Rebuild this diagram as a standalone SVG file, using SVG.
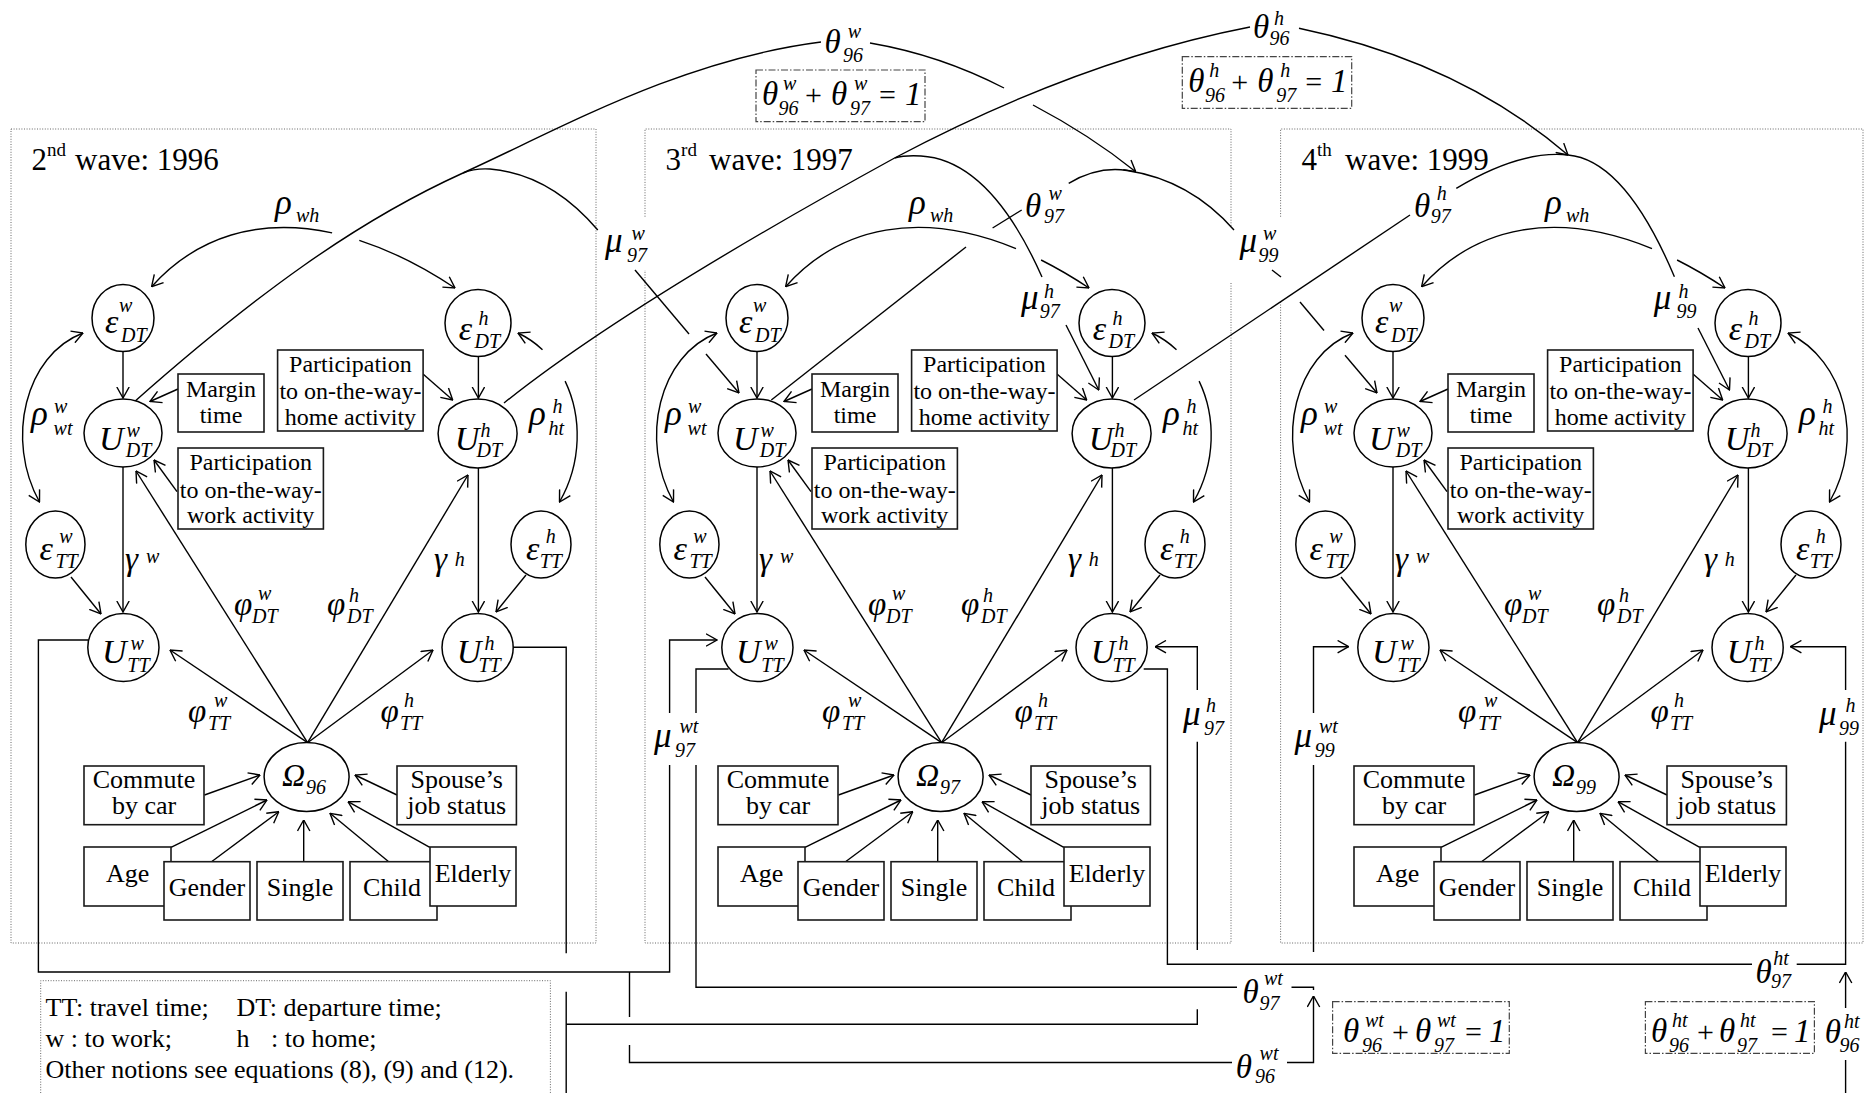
<svg xmlns="http://www.w3.org/2000/svg" width="1866" height="1093" viewBox="0 0 1866 1093">
<defs>
<style>
text{font-family:"Liberation Serif","Times New Roman",serif;fill:#000}
.e{fill:#fff;stroke:#000;stroke-width:1.5}
.b{fill:#fff;stroke:#1a1a1a;stroke-width:1.6}
.c{fill:none;stroke:#000;stroke-width:1.4}
.a{marker-end:url(#ah)}
.s0{marker-start:url(#ah)}
.fr{fill:none;stroke:#666;stroke-width:1;stroke-dasharray:1 1.6}
.dd{fill:none;stroke:#444;stroke-width:1.2;stroke-dasharray:7 2 1.5 2}
.bt{font-size:24px;text-anchor:middle}
.bt2{font-size:26px;text-anchor:middle}
.lg{font-size:26px}
.ttl{font-size:31px}
.sp{font-size:19px}
.U{font-size:34px;font-style:italic}
.G{font-size:35px;font-style:italic}
.T{font-size:33px;font-style:italic}
.W{font-size:32px;font-style:italic}
.s{font-size:20px;font-style:italic}
.op{font-size:30px}
</style>
<marker id="ah" viewBox="0 0 12 14" refX="11.5" refY="7" markerWidth="12" markerHeight="14" markerUnits="userSpaceOnUse" orient="auto-start-reverse">
<path d="M0.5,0.8 L11.5,7 L0.5,13.2" fill="none" stroke="#000" stroke-width="1.4"/>
</marker>
</defs>
<rect width="1866" height="1093" fill="#fff"/>

<!-- dotted wave frames, legend frame and titles -->
<g id="frames">
<path class="fr" d="M11,129 H596 V943 H11 Z"/>
<path class="fr" d="M645,216.7 V129 H1231 V226.7 M1231,283 V943 H645 V270"/>
<path class="fr" d="M1280.6,216.7 V129 H1863 V943 H1280.6 V301.7"/>
<path class="fr" d="M40.7,1093 V980.7 H550.4 V1093"/>
<text class="ttl" x="31.6" y="170">2<tspan class="sp" dy="-14">nd</tspan><tspan x="75" dy="14">wave: 1996</tspan></text>
<text class="ttl" x="665.6" y="170">3<tspan class="sp" dy="-14">rd</tspan><tspan x="709" dy="14">wave: 1997</tspan></text>
<text class="ttl" x="1301.6" y="170">4<tspan class="sp" dy="-14">th</tspan><tspan x="1345" dy="14">wave: 1999</tspan></text>
<g id="legend">
<text class="lg" x="45.5" y="1016">TT: travel time;</text>
<text class="lg" x="236.5" y="1016">DT: departure time;</text>
<text class="lg" x="45.5" y="1046.7">w : to work;</text>
<text class="lg" x="236.5" y="1046.7">h</text>
<text class="lg" x="271" y="1046.7">: to home;</text>
<text class="lg" x="45.5" y="1078.3">Other notions see equations (8), (9) and (12).</text>
</g>
</g>

<!-- all connectors -->
<g id="connectors">
<g id="links-96">
<path class="c a" d="M123,351.5 L123,398"/>
<path class="c a" d="M178,389 L150,401.5"/>
<path class="c a" d="M177,491.7 L154,460"/>
<path class="c a" d="M123,467 L123,612"/>
<path class="c a" d="M71,577 L101,614"/>
<path class="c a" d="M307.6,742.7 L136,471"/>
<path class="c a" d="M307.6,742.7 L170,650"/>
<path class="c a" d="M307.6,742.7 L468,475"/>
<path class="c a" d="M307.6,742.7 L433,650"/>
<path class="c a" d="M478.4,356.5 L478.4,398"/>
<path class="c a" d="M423,374 L452.7,400"/>
<path class="c a" d="M478.4,468 L478.4,612"/>
<path class="c a" d="M526,575 L496,612"/>
<path class="c a" d="M204.5,795 L260,775"/>
<path class="c a" d="M397,795 L355,775"/>
<path class="c a" d="M171,847.3 L267,800"/>
<path class="c a" d="M211.5,861.7 L278.8,811.7"/>
<path class="c a" d="M303.7,861.7 L303.7,820"/>
<path class="c a" d="M388.7,861.7 L330,813.3"/>
<path class="c a" d="M429.8,847.3 L348,801.7"/>
<path class="c a s0" d="M83,333 C25,355 5,440 39.5,502"/>
<path class="c s0" d="M151.6,286.7 C196.4,236.5 259.1,217 332.1,232.9"/>
<path class="c a" d="M359.3,240.3 C389.8,250.2 421.9,266 455,288"/>
<path class="c s0" d="M518,333 C527.1,337.3 535.3,343 542.5,349.7"/>
<path class="c a" d="M565.1,381.1 C582.2,416.7 581.9,462.9 559.5,502"/>
</g>
<g id="links-97" transform="translate(634,0)">
<path class="c a" d="M123,351.5 L123,398"/>
<path class="c a" d="M178,389 L150,401.5"/>
<path class="c a" d="M177,491.7 L154,460"/>
<path class="c a" d="M123,467 L123,612"/>
<path class="c a" d="M71,577 L101,614"/>
<path class="c a" d="M307.6,742.7 L136,471"/>
<path class="c a" d="M307.6,742.7 L170,650"/>
<path class="c a" d="M307.6,742.7 L468,475"/>
<path class="c a" d="M307.6,742.7 L433,650"/>
<path class="c a" d="M478.4,356.5 L478.4,398"/>
<path class="c a" d="M423,374 L452.7,400"/>
<path class="c a" d="M478.4,468 L478.4,612"/>
<path class="c a" d="M526,575 L496,612"/>
<path class="c a" d="M204.5,795 L260,775"/>
<path class="c a" d="M397,795 L355,775"/>
<path class="c a" d="M171,847.3 L267,800"/>
<path class="c a" d="M211.5,861.7 L278.8,811.7"/>
<path class="c a" d="M303.7,861.7 L303.7,820"/>
<path class="c a" d="M388.7,861.7 L330,813.3"/>
<path class="c a" d="M429.8,847.3 L348,801.7"/>
<path class="c a s0" d="M83,333 C25,355 5,440 39.5,502"/>
<path class="c s0" d="M151.6,286.7 C206.3,225.3 287.7,209.9 382,248.6"/>
<path class="c a" d="M407.1,260 C422.8,267.9 438.75,277.2 455,288"/>
<path class="c s0" d="M518,333 C527.1,337.3 535.3,343 542.5,349.7"/>
<path class="c a" d="M565.1,381.1 C582.2,416.7 581.9,462.9 559.5,502"/>
</g>
<g id="links-99" transform="translate(1270,0)">
<path class="c a" d="M123,351.5 L123,398"/>
<path class="c a" d="M178,389 L150,401.5"/>
<path class="c a" d="M177,491.7 L154,460"/>
<path class="c a" d="M123,467 L123,612"/>
<path class="c a" d="M71,577 L101,614"/>
<path class="c a" d="M307.6,742.7 L136,471"/>
<path class="c a" d="M307.6,742.7 L170,650"/>
<path class="c a" d="M307.6,742.7 L468,475"/>
<path class="c a" d="M307.6,742.7 L433,650"/>
<path class="c a" d="M478.4,356.5 L478.4,398"/>
<path class="c a" d="M423,374 L452.7,400"/>
<path class="c a" d="M478.4,468 L478.4,612"/>
<path class="c a" d="M526,575 L496,612"/>
<path class="c a" d="M204.5,795 L260,775"/>
<path class="c a" d="M397,795 L355,775"/>
<path class="c a" d="M171,847.3 L267,800"/>
<path class="c a" d="M211.5,861.7 L278.8,811.7"/>
<path class="c a" d="M303.7,861.7 L303.7,820"/>
<path class="c a" d="M388.7,861.7 L330,813.3"/>
<path class="c a" d="M429.8,847.3 L348,801.7"/>
<path class="c a s0" d="M83,333 C25,355 5,440 39.5,502"/>
<path class="c s0" d="M151.6,286.7 C206.3,225.3 287.7,209.9 382,248.6"/>
<path class="c a" d="M407.1,260 C422.8,267.9 438.75,277.2 455,288"/>
<path class="c a s0" d="M518,333 C575,360 595,440 559.5,502"/>
</g>

<!-- carry-over of departure-time utilities between waves -->
<g id="links-dt">
<path class="c" d="M134.4,401.7 C255,295 355,222 463,173"/>
<path class="c" d="M463,173 C560,129 680,60 821,42"/>
<path class="c" d="M870,43 Q940,55 1004,88"/>
<path class="c a" d="M1033,105 Q1090,135 1135.7,171.7"/>
<path class="c" d="M463,173 Q475,168 490,169 Q550,174 597.8,230"/>
<path class="c" d="M635,270 L689,334"/>
<path class="c a" d="M706,354 L739,393"/>
<path class="c" d="M504,403 Q625,306 894.6,158"/>
<path class="c" d="M894.6,158 Q1080,60 1250,27"/>
<path class="c a" d="M1299,28.3 Q1460,62 1568,155"/>
<path class="c" d="M894.6,158 Q905,155 921,156 Q990,160 1042,277"/>
<path class="c a" d="M1066,325 L1098.8,390"/>
<path class="c" d="M771.3,400 L966,247"/>
<path class="c" d="M992.6,228 L1021.7,210"/>
<path class="c" d="M1068.7,183.3 Q1098,166 1127,170.5 Q1190,180 1234,230"/>
<path class="c" d="M1272,270 L1281,277"/>
<path class="c" d="M1300,302 L1324,330.5"/>
<path class="c a" d="M1345,355.3 L1377,393"/>
<path class="c" d="M1134,400 L1410,215"/>
<path class="c" d="M1456.3,188.3 Q1520,150 1568,155 Q1625,160 1674.4,276.7"/>
<path class="c a" d="M1698,328 L1729.5,390"/>
</g>

<!-- carry-over of travel-time utilities between waves -->
<g id="links-tt">
<path class="c" d="M88,640 H38.4 V972 H669.6 V765"/>
<path class="c a" d="M669.6,713 V640 H717"/>
<path class="c" d="M629.5,972 V1017"/>
<path class="c" d="M629.5,1045 V1062.5 H1232"/>
<path class="c a" d="M1287,1062.5 H1313.5 V996"/>
<path class="c" d="M728.6,669 H696 V713"/>
<path class="c" d="M696,765 V987.3 H1237"/>
<path class="c" d="M1291.5,987.3 H1313.5 V990"/>
<path class="c" d="M1313.5,952 V765"/>
<path class="c a" d="M1313.5,713 V646.7 H1348.6"/>
<path class="c" d="M513.2,647.3 H566.2 V953.3"/>
<path class="c" d="M566.2,991.7 V1093"/>
<path class="c" d="M566.2,1024.3 H1197.3 V1009.3"/>
<path class="c" d="M1197.3,950 V741.7"/>
<path class="c a" d="M1197.3,690 V646.7 H1155"/>
<path class="c" d="M1143.7,669 H1167.4 V964.3 H1752"/>
<path class="c" d="M1796.7,964.3 H1845.6 V741.7"/>
<path class="c a" d="M1845.6,690 V646.7 H1790.4"/>
<path class="c" d="M1845.6,1093 V1060"/>
<path class="c a" d="M1845.6,1008 V972"/>
</g>
</g>

<!-- weight constraints -->
<g id="constraints">
<g id="eq-w">
<rect class="dd" x="756" y="70" width="169" height="51.7"/>
<text class="T" x="762" y="105">θ</text><text class="s" x="783" y="90">w</text><text class="s" x="778.6" y="115">96</text>
<text class="op" x="805" y="105">+</text>
<text class="T" x="831" y="105">θ</text><text class="s" x="854" y="90">w</text><text class="s" x="850" y="115">97</text>
<text class="op" x="879" y="105">=</text><text class="T" x="905" y="105">1</text>
</g>
<g id="eq-h">
<rect class="dd" x="1182.3" y="56.7" width="169.4" height="51.6"/>
<text class="T" x="1188.3" y="91.7">θ</text><text class="s" x="1209.3" y="76.7">h</text><text class="s" x="1204.9" y="101.7">96</text>
<text class="op" x="1231.3" y="91.7">+</text>
<text class="T" x="1257.3" y="91.7">θ</text><text class="s" x="1280.3" y="76.7">h</text><text class="s" x="1276.3" y="101.7">97</text>
<text class="op" x="1305.3" y="91.7">=</text><text class="T" x="1331.1" y="91.7">1</text>
</g>
<g id="eq-wt">
<rect class="dd" x="1332.6" y="1001.7" width="176.7" height="51.6"/>
<text class="T" x="1343" y="1041.7">θ</text><text class="s" x="1365" y="1026.7">wt</text><text class="s" x="1362" y="1051.7">96</text>
<text class="op" x="1392" y="1041.7">+</text>
<text class="T" x="1415" y="1041.7">θ</text><text class="s" x="1437" y="1026.7">wt</text><text class="s" x="1434" y="1051.7">97</text>
<text class="op" x="1465" y="1041.7">=</text><text class="T" x="1489" y="1041.7">1</text>
</g>
<g id="eq-ht">
<rect class="dd" x="1645.4" y="1001.7" width="169" height="51.6"/>
<text class="T" x="1651" y="1041.7">θ</text><text class="s" x="1672" y="1026.7">ht</text><text class="s" x="1669" y="1051.7">96</text>
<text class="op" x="1697" y="1041.7">+</text>
<text class="T" x="1719" y="1041.7">θ</text><text class="s" x="1740" y="1026.7">ht</text><text class="s" x="1737" y="1051.7">97</text>
<text class="op" x="1771" y="1041.7">=</text><text class="T" x="1794" y="1041.7">1</text>
</g>
</g>

<!-- parameter labels on the connectors -->
<g id="labels">
<g id="labels-96">
<text class="G" x="275" y="214">ρ</text><text class="s" x="296" y="222">wh</text>
<text class="G" x="31" y="425">ρ</text><text class="s" x="54" y="413">w</text><text class="s" x="53.6" y="435">wt</text>
<text class="G" x="529" y="425">ρ</text><text class="s" x="552.6" y="413">h</text><text class="s" x="548.6" y="435">ht</text>
<text class="T" x="125" y="570">γ</text><text class="s" x="146" y="563">w</text>
<text class="T" x="434" y="570">γ</text><text class="s" x="454.7" y="566">h</text>
<text class="T" x="234" y="615">φ</text><text class="s" x="258" y="600">w</text><text class="s" x="252" y="623">DT</text>
<text class="T" x="327" y="615">φ</text><text class="s" x="349" y="601.7">h</text><text class="s" x="347" y="623">DT</text>
<text class="T" x="188" y="722">φ</text><text class="s" x="214" y="707">w</text><text class="s" x="208" y="730">TT</text>
<text class="T" x="380.6" y="722">φ</text><text class="s" x="404" y="706.7">h</text><text class="s" x="400" y="730">TT</text>
</g>
<g id="labels-97" transform="translate(634,0)">
<text class="G" x="275" y="214">ρ</text><text class="s" x="296" y="222">wh</text>
<text class="G" x="31" y="425">ρ</text><text class="s" x="54" y="413">w</text><text class="s" x="53.6" y="435">wt</text>
<text class="G" x="529" y="425">ρ</text><text class="s" x="552.6" y="413">h</text><text class="s" x="548.6" y="435">ht</text>
<text class="T" x="125" y="570">γ</text><text class="s" x="146" y="563">w</text>
<text class="T" x="434" y="570">γ</text><text class="s" x="454.7" y="566">h</text>
<text class="T" x="234" y="615">φ</text><text class="s" x="258" y="600">w</text><text class="s" x="252" y="623">DT</text>
<text class="T" x="327" y="615">φ</text><text class="s" x="349" y="601.7">h</text><text class="s" x="347" y="623">DT</text>
<text class="T" x="188" y="722">φ</text><text class="s" x="214" y="707">w</text><text class="s" x="208" y="730">TT</text>
<text class="T" x="380.6" y="722">φ</text><text class="s" x="404" y="706.7">h</text><text class="s" x="400" y="730">TT</text>
</g>
<g id="labels-99" transform="translate(1270,0)">
<text class="G" x="275" y="214">ρ</text><text class="s" x="296" y="222">wh</text>
<text class="G" x="31" y="425">ρ</text><text class="s" x="54" y="413">w</text><text class="s" x="53.6" y="435">wt</text>
<text class="G" x="529" y="425">ρ</text><text class="s" x="552.6" y="413">h</text><text class="s" x="548.6" y="435">ht</text>
<text class="T" x="125" y="570">γ</text><text class="s" x="146" y="563">w</text>
<text class="T" x="434" y="570">γ</text><text class="s" x="454.7" y="566">h</text>
<text class="T" x="234" y="615">φ</text><text class="s" x="258" y="600">w</text><text class="s" x="252" y="623">DT</text>
<text class="T" x="327" y="615">φ</text><text class="s" x="349" y="601.7">h</text><text class="s" x="347" y="623">DT</text>
<text class="T" x="188" y="722">φ</text><text class="s" x="214" y="707">w</text><text class="s" x="208" y="730">TT</text>
<text class="T" x="380.6" y="722">φ</text><text class="s" x="404" y="706.7">h</text><text class="s" x="400" y="730">TT</text>
</g>
<g id="labels-cross">
<text class="T" x="824.4" y="53.3">θ</text><text class="s" x="847.8" y="38">w</text><text class="s" x="843" y="61.7">96</text>
<text class="T" x="1253" y="38.3">θ</text><text class="s" x="1274" y="25">h</text><text class="s" x="1269.6" y="45">96</text>
<text class="T" x="1025" y="217">θ</text><text class="s" x="1048.6" y="200">w</text><text class="s" x="1044" y="223">97</text>
<text class="T" x="1414" y="216.7">θ</text><text class="s" x="1436.7" y="200">h</text><text class="s" x="1430.8" y="223">97</text>
<text class="G" x="605" y="252">μ</text><text class="s" x="631.5" y="240">w</text><text class="s" x="627" y="261.7">97</text>
<text class="G" x="1239.6" y="252">μ</text><text class="s" x="1263" y="240">w</text><text class="s" x="1258.5" y="261.7">99</text>
<text class="G" x="1021" y="309">μ</text><text class="s" x="1044" y="298">h</text><text class="s" x="1039.7" y="318">97</text>
<text class="G" x="1653.8" y="309">μ</text><text class="s" x="1678.4" y="298">h</text><text class="s" x="1676.4" y="318">99</text>
<text class="G" x="654" y="747">μ</text><text class="s" x="679.5" y="733">wt</text><text class="s" x="675" y="756.7">97</text>
<text class="G" x="1294.6" y="747">μ</text><text class="s" x="1319" y="733">wt</text><text class="s" x="1314.7" y="756.7">99</text>
<text class="G" x="1183" y="725">μ</text><text class="s" x="1206" y="711.7">h</text><text class="s" x="1204" y="735">97</text>
<text class="G" x="1819" y="725">μ</text><text class="s" x="1845.6" y="711.7">h</text><text class="s" x="1839" y="735">99</text>
<text class="T" x="1755.4" y="983.3">θ</text><text class="s" x="1773.3" y="965">ht</text><text class="s" x="1771" y="988">97</text>
<text class="T" x="1242.6" y="1003">θ</text><text class="s" x="1264" y="985">wt</text><text class="s" x="1259.6" y="1010">97</text>
<text class="T" x="1235.8" y="1078">θ</text><text class="s" x="1259.6" y="1060">wt</text><text class="s" x="1255" y="1083">96</text>
<text class="T" x="1824.8" y="1043">θ</text><text class="s" x="1844" y="1028">ht</text><text class="s" x="1839.5" y="1052">96</text>
</g>
</g>

<!-- nodes, wave 1996 -->
<g id="wave-96">
<g id="n96-eps-dt-w"><ellipse class="e" cx="123" cy="318" rx="31" ry="33.5"/><text class="U" x="105" y="333">ε</text><text class="s" x="119" y="312">w</text><text class="s" x="121" y="341.5">DT</text></g>
<g id="n96-u-dt-w"><ellipse class="e" cx="123" cy="433" rx="39" ry="34"/><text class="U" x="99" y="450">U</text><text class="s" x="126.5" y="437">w</text><text class="s" x="125.7" y="457">DT</text></g>
<g id="n96-eps-tt-w"><ellipse class="e" cx="55.4" cy="544.5" rx="29.6" ry="33.5"/><text class="U" x="39.5" y="560">ε</text><text class="s" x="59.3" y="543">w</text><text class="s" x="55.4" y="568">TT</text></g>
<g id="n96-u-tt-w"><ellipse class="e" cx="123.4" cy="647.5" rx="35.6" ry="34"/><text class="U" x="102" y="663">U</text><text class="s" x="130.5" y="650">w</text><text class="s" x="127.3" y="671.7">TT</text></g>
<g id="n96-eps-dt-h"><ellipse class="e" cx="478" cy="323" rx="33" ry="33.5"/><text class="U" x="458.7" y="340">ε</text><text class="s" x="478.4" y="325">h</text><text class="s" x="474.5" y="348">DT</text></g>
<g id="n96-u-dt-h"><ellipse class="e" cx="477.6" cy="433.5" rx="39.5" ry="34.5"/><text class="U" x="454.7" y="450">U</text><text class="s" x="480.4" y="437">h</text><text class="s" x="476.5" y="457">DT</text></g>
<g id="n96-eps-tt-h"><ellipse class="e" cx="541" cy="544.5" rx="30" ry="33.5"/><text class="U" x="526" y="560">ε</text><text class="s" x="545.7" y="543">h</text><text class="s" x="539.7" y="568">TT</text></g>
<g id="n96-u-tt-h"><ellipse class="e" cx="477.6" cy="647.5" rx="35.6" ry="34"/><text class="U" x="456.7" y="663">U</text><text class="s" x="484.4" y="650">h</text><text class="s" x="478.4" y="671.7">TT</text></g>
<g id="n96-omega"><ellipse class="e" cx="306.6" cy="777" rx="42.5" ry="34.5"/><text class="W" x="282" y="786">Ω</text><text class="s" x="306" y="794">96</text></g>
<g id="n96-margin"><rect class="b" x="178" y="374" width="86" height="58"/><text class="bt" x="221" y="396.7">Margin</text><text class="bt" x="221" y="423">time</text></g>
<g id="n96-part-home"><rect class="b" x="277.6" y="350" width="145.5" height="81"/><text class="bt" x="350.4" y="372">Participation</text><text class="bt" x="350.4" y="399">to on-the-way-</text><text class="bt" x="350.4" y="425">home activity</text></g>
<g id="n96-part-work"><rect class="b" x="178" y="448" width="145.4" height="81"/><text class="bt" x="250.7" y="470">Participation</text><text class="bt" x="250.7" y="498">to on-the-way-</text><text class="bt" x="250.7" y="523">work activity</text></g>
<g id="n96-commute"><rect class="b" x="84" y="766" width="120" height="58.7"/><text class="bt2" x="144" y="788.3">Commute</text><text class="bt2" x="144" y="814">by car</text></g>
<g id="n96-spouse"><rect class="b" x="397" y="766" width="119.4" height="58.7"/><text class="bt2" x="456.7" y="788.3">Spouse’s</text><text class="bt2" x="456.7" y="814">job status</text></g>
<g id="n96-age"><rect class="b" x="84" y="847" width="87" height="59"/><text class="bt2" x="127.7" y="881.7">Age</text></g>
<g id="n96-gender"><rect class="b" x="164" y="861.7" width="86" height="58.3"/><text class="bt2" x="207" y="896">Gender</text></g>
<g id="n96-single"><rect class="b" x="257" y="861.7" width="86" height="58.3"/><text class="bt2" x="300" y="896">Single</text></g>
<g id="n96-child"><rect class="b" x="350" y="861.7" width="87" height="58.3"/><text class="bt2" x="392" y="896">Child</text></g>
<g id="n96-elderly"><rect class="b" x="430" y="847" width="86" height="59"/><text class="bt2" x="473" y="881.7">Elderly</text></g>
</g>

<!-- nodes, wave 1997 -->
<g id="wave-97" transform="translate(634,0)">
<g id="n97-eps-dt-w"><ellipse class="e" cx="123" cy="318" rx="31" ry="33.5"/><text class="U" x="105" y="333">ε</text><text class="s" x="119" y="312">w</text><text class="s" x="121" y="341.5">DT</text></g>
<g id="n97-u-dt-w"><ellipse class="e" cx="123" cy="433" rx="39" ry="34"/><text class="U" x="99" y="450">U</text><text class="s" x="126.5" y="437">w</text><text class="s" x="125.7" y="457">DT</text></g>
<g id="n97-eps-tt-w"><ellipse class="e" cx="55.4" cy="544.5" rx="29.6" ry="33.5"/><text class="U" x="39.5" y="560">ε</text><text class="s" x="59.3" y="543">w</text><text class="s" x="55.4" y="568">TT</text></g>
<g id="n97-u-tt-w"><ellipse class="e" cx="123.4" cy="647.5" rx="35.6" ry="34"/><text class="U" x="102" y="663">U</text><text class="s" x="130.5" y="650">w</text><text class="s" x="127.3" y="671.7">TT</text></g>
<g id="n97-eps-dt-h"><ellipse class="e" cx="478" cy="323" rx="33" ry="33.5"/><text class="U" x="458.7" y="340">ε</text><text class="s" x="478.4" y="325">h</text><text class="s" x="474.5" y="348">DT</text></g>
<g id="n97-u-dt-h"><ellipse class="e" cx="477.6" cy="433.5" rx="39.5" ry="34.5"/><text class="U" x="454.7" y="450">U</text><text class="s" x="480.4" y="437">h</text><text class="s" x="476.5" y="457">DT</text></g>
<g id="n97-eps-tt-h"><ellipse class="e" cx="541" cy="544.5" rx="30" ry="33.5"/><text class="U" x="526" y="560">ε</text><text class="s" x="545.7" y="543">h</text><text class="s" x="539.7" y="568">TT</text></g>
<g id="n97-u-tt-h"><ellipse class="e" cx="477.6" cy="647.5" rx="35.6" ry="34"/><text class="U" x="456.7" y="663">U</text><text class="s" x="484.4" y="650">h</text><text class="s" x="478.4" y="671.7">TT</text></g>
<g id="n97-omega"><ellipse class="e" cx="306.6" cy="777" rx="42.5" ry="34.5"/><text class="W" x="282" y="786">Ω</text><text class="s" x="306" y="794">97</text></g>
<g id="n97-margin"><rect class="b" x="178" y="374" width="86" height="58"/><text class="bt" x="221" y="396.7">Margin</text><text class="bt" x="221" y="423">time</text></g>
<g id="n97-part-home"><rect class="b" x="277.6" y="350" width="145.5" height="81"/><text class="bt" x="350.4" y="372">Participation</text><text class="bt" x="350.4" y="399">to on-the-way-</text><text class="bt" x="350.4" y="425">home activity</text></g>
<g id="n97-part-work"><rect class="b" x="178" y="448" width="145.4" height="81"/><text class="bt" x="250.7" y="470">Participation</text><text class="bt" x="250.7" y="498">to on-the-way-</text><text class="bt" x="250.7" y="523">work activity</text></g>
<g id="n97-commute"><rect class="b" x="84" y="766" width="120" height="58.7"/><text class="bt2" x="144" y="788.3">Commute</text><text class="bt2" x="144" y="814">by car</text></g>
<g id="n97-spouse"><rect class="b" x="397" y="766" width="119.4" height="58.7"/><text class="bt2" x="456.7" y="788.3">Spouse’s</text><text class="bt2" x="456.7" y="814">job status</text></g>
<g id="n97-age"><rect class="b" x="84" y="847" width="87" height="59"/><text class="bt2" x="127.7" y="881.7">Age</text></g>
<g id="n97-gender"><rect class="b" x="164" y="861.7" width="86" height="58.3"/><text class="bt2" x="207" y="896">Gender</text></g>
<g id="n97-single"><rect class="b" x="257" y="861.7" width="86" height="58.3"/><text class="bt2" x="300" y="896">Single</text></g>
<g id="n97-child"><rect class="b" x="350" y="861.7" width="87" height="58.3"/><text class="bt2" x="392" y="896">Child</text></g>
<g id="n97-elderly"><rect class="b" x="430" y="847" width="86" height="59"/><text class="bt2" x="473" y="881.7">Elderly</text></g>
</g>

<!-- nodes, wave 1999 -->
<g id="wave-99" transform="translate(1270,0)">
<g id="n99-eps-dt-w"><ellipse class="e" cx="123" cy="318" rx="31" ry="33.5"/><text class="U" x="105" y="333">ε</text><text class="s" x="119" y="312">w</text><text class="s" x="121" y="341.5">DT</text></g>
<g id="n99-u-dt-w"><ellipse class="e" cx="123" cy="433" rx="39" ry="34"/><text class="U" x="99" y="450">U</text><text class="s" x="126.5" y="437">w</text><text class="s" x="125.7" y="457">DT</text></g>
<g id="n99-eps-tt-w"><ellipse class="e" cx="55.4" cy="544.5" rx="29.6" ry="33.5"/><text class="U" x="39.5" y="560">ε</text><text class="s" x="59.3" y="543">w</text><text class="s" x="55.4" y="568">TT</text></g>
<g id="n99-u-tt-w"><ellipse class="e" cx="123.4" cy="647.5" rx="35.6" ry="34"/><text class="U" x="102" y="663">U</text><text class="s" x="130.5" y="650">w</text><text class="s" x="127.3" y="671.7">TT</text></g>
<g id="n99-eps-dt-h"><ellipse class="e" cx="478" cy="323" rx="33" ry="33.5"/><text class="U" x="458.7" y="340">ε</text><text class="s" x="478.4" y="325">h</text><text class="s" x="474.5" y="348">DT</text></g>
<g id="n99-u-dt-h"><ellipse class="e" cx="477.6" cy="433.5" rx="39.5" ry="34.5"/><text class="U" x="454.7" y="450">U</text><text class="s" x="480.4" y="437">h</text><text class="s" x="476.5" y="457">DT</text></g>
<g id="n99-eps-tt-h"><ellipse class="e" cx="541" cy="544.5" rx="30" ry="33.5"/><text class="U" x="526" y="560">ε</text><text class="s" x="545.7" y="543">h</text><text class="s" x="539.7" y="568">TT</text></g>
<g id="n99-u-tt-h"><ellipse class="e" cx="477.6" cy="647.5" rx="35.6" ry="34"/><text class="U" x="456.7" y="663">U</text><text class="s" x="484.4" y="650">h</text><text class="s" x="478.4" y="671.7">TT</text></g>
<g id="n99-omega"><ellipse class="e" cx="306.6" cy="777" rx="42.5" ry="34.5"/><text class="W" x="282" y="786">Ω</text><text class="s" x="306" y="794">99</text></g>
<g id="n99-margin"><rect class="b" x="178" y="374" width="86" height="58"/><text class="bt" x="221" y="396.7">Margin</text><text class="bt" x="221" y="423">time</text></g>
<g id="n99-part-home"><rect class="b" x="277.6" y="350" width="145.5" height="81"/><text class="bt" x="350.4" y="372">Participation</text><text class="bt" x="350.4" y="399">to on-the-way-</text><text class="bt" x="350.4" y="425">home activity</text></g>
<g id="n99-part-work"><rect class="b" x="178" y="448" width="145.4" height="81"/><text class="bt" x="250.7" y="470">Participation</text><text class="bt" x="250.7" y="498">to on-the-way-</text><text class="bt" x="250.7" y="523">work activity</text></g>
<g id="n99-commute"><rect class="b" x="84" y="766" width="120" height="58.7"/><text class="bt2" x="144" y="788.3">Commute</text><text class="bt2" x="144" y="814">by car</text></g>
<g id="n99-spouse"><rect class="b" x="397" y="766" width="119.4" height="58.7"/><text class="bt2" x="456.7" y="788.3">Spouse’s</text><text class="bt2" x="456.7" y="814">job status</text></g>
<g id="n99-age"><rect class="b" x="84" y="847" width="87" height="59"/><text class="bt2" x="127.7" y="881.7">Age</text></g>
<g id="n99-gender"><rect class="b" x="164" y="861.7" width="86" height="58.3"/><text class="bt2" x="207" y="896">Gender</text></g>
<g id="n99-single"><rect class="b" x="257" y="861.7" width="86" height="58.3"/><text class="bt2" x="300" y="896">Single</text></g>
<g id="n99-child"><rect class="b" x="350" y="861.7" width="87" height="58.3"/><text class="bt2" x="392" y="896">Child</text></g>
<g id="n99-elderly"><rect class="b" x="430" y="847" width="86" height="59"/><text class="bt2" x="473" y="881.7">Elderly</text></g>
</g>
</svg>
